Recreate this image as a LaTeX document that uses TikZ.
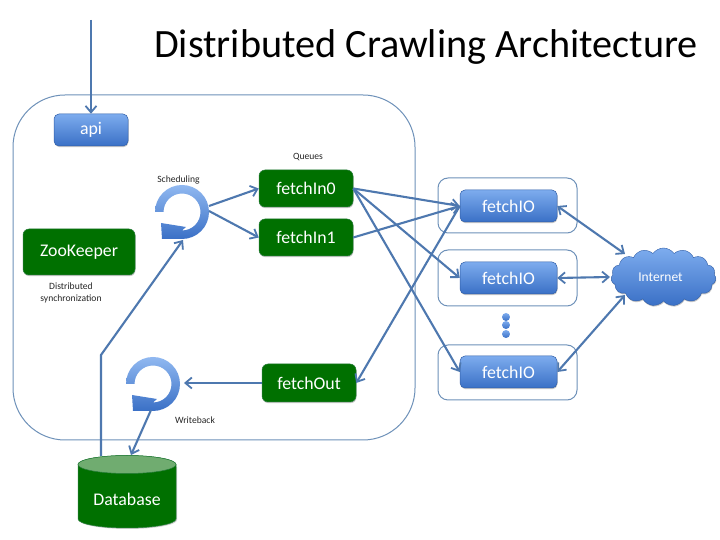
\documentclass[tikz,border=0pt]{standalone}
\usepackage{fontspec}
\setmainfont{Carlito}
\usetikzlibrary{arrows.meta,shapes.geometric,shapes.symbols,shadows,calc}
\definecolor{lnk}{RGB}{78,120,175}
\definecolor{frm}{RGB}{110,145,185}
\definecolor{bluetop}{RGB}{125,172,238}
\definecolor{bluebot}{RGB}{58,112,198}
\definecolor{grn}{RGB}{0,112,0}
\definecolor{grnedge}{RGB}{40,125,60}
\definecolor{grnlid}{RGB}{112,172,112}
\tikzset{
  x=1pt,y=1pt,
  frame/.style={draw=frm,line width=1pt,fill=white,rounded corners=10pt},
  softshadow/.style={drop shadow={shadow xshift=0.5pt,shadow yshift=-1.2pt,opacity=.22,fill=black}},
  bluebox/.style={rectangle,rounded corners=5pt,draw=bluebot!85!black,line width=.5pt,top color=bluetop,bottom color=bluebot,text=white,inner sep=0pt,font=\fontsize{17.8}{20}\selectfont,softshadow},
  greenbox/.style={rectangle,rounded corners=6pt,draw=grnedge,line width=.5pt,fill=grn,text=white,inner sep=0pt,font=\fontsize{17.8}{20}\selectfont,softshadow},
  link/.style={draw=lnk,line width=2.1pt,-{Straight Barb[length=6.5pt,width=11pt,line width=1.8pt]}},
  dlink/.style={draw=lnk,line width=2.1pt,{Straight Barb[length=6.5pt,width=11pt,line width=1.8pt]}-{Straight Barb[length=6.5pt,width=11pt,line width=1.8pt]}},
  caption/.style={font=\fontsize{9.6}{11.5}\selectfont,text=black!85,align=center,inner sep=0pt},
  ringshape/.pic={
    \path[top color=bluetop!85!white,bottom color=bluebot,draw=none]
      (-27,0) arc[start angle=180,end angle=-90,radius=27]
      -- (-20,-27) -- (-21,-11) -- (4,-15) -- (0,-18.5)
      arc[start angle=-90,end angle=180,radius=18.5] -- cycle;
  }
}
\begin{document}
\begin{tikzpicture}
\useasboundingbox (0,0) rectangle (720,540);
\fill[white] (0,0) rectangle (720,540);
% frames
\draw[frame,rounded corners=52pt] (13,100) rectangle (415,445);
\draw[frame] (438,307) rectangle (577,362);
\draw[frame] (438,234) rectangle (577,290);
\draw[frame] (438,140) rectangle (577,195);
% title
\node[anchor=base,inner sep=0pt,font=\fontsize{40.2}{46}\selectfont,text=black] (title) at (426,482) {Distributed Crawling Architecture};
% named points
\coordinate (feed) at (91,520);
\coordinate (schedc) at (182,328);
\coordinate (writec) at (153,156);
\coordinate (schedr0) at (209,334);
\coordinate (schedr1) at (209,329);
\coordinate (schedin) at (183,300);
\coordinate (writein) at (184,157);
\coordinate (writeout) at (151,130);
\coordinate (elbow) at (101,185);
\coordinate (dbup) at (101,84);
\coordinate (dbin) at (131,85);
\coordinate (net0) at (625,286);
\coordinate (net1) at (610,263);
\coordinate (net2) at (625,245);
% nodes
\node[bluebox,minimum width=74pt,minimum height=32pt] (api) at (91,410) {api};
\node[greenbox,minimum width=112pt,minimum height=46pt] (zk) at (79,288) {ZooKeeper};
\node[greenbox,minimum width=94pt,minimum height=37pt] (in0) at (306,351.5) {fetchIn0};
\node[greenbox,minimum width=94pt,minimum height=37pt] (in1) at (306,302.5) {fetchIn1};
\node[greenbox,minimum width=94pt,minimum height=38pt] (out) at (309,157) {fetchOut};
\node[bluebox,minimum width=97pt,minimum height=32pt] (io0) at (508.5,334) {fetchIO};
\node[bluebox,minimum width=97pt,minimum height=32pt] (io1) at (508.5,262) {fetchIO};
\node[bluebox,minimum width=97pt,minimum height=32pt] (io2) at (508.5,168) {fetchIO};
% database cylinder
\fill[black,opacity=.18] (79,73) -- (79,20) arc[x radius=49,y radius=9,start angle=180,end angle=360] -- (177,73) -- cycle;
\path[fill=grn,draw=grnedge,line width=.5pt] (78,75.5) -- (78,21) arc[x radius=49,y radius=9,start angle=180,end angle=360] -- (176,75.5) arc[x radius=49,y radius=9,start angle=0,end angle=180] -- cycle;
\path[fill=grnlid,draw=grnedge,line width=.5pt] (127,75.5) ellipse[x radius=49,y radius=9];
\node[text=white,font=\fontsize{17.8}{20}\selectfont,inner sep=0pt] (db) at (127,41) {Database};
\node[cloud,cloud puffs=15,cloud puff arc=110,aspect=1.9,minimum width=105pt,minimum height=58pt,inner sep=0pt,top color=bluetop,bottom color=bluebot,draw=bluebot!85!black,line width=.4pt,text=white,font=\fontsize{13.5}{15}\selectfont,softshadow] (net) at (663.5,263) {\hspace*{-6pt}Internet};
\foreach \n/\y in {d0/223,d1/215,d2/206}
  \node[circle,minimum size=8pt,inner sep=0pt,top color=bluetop,bottom color=bluebot,draw=none] (\n) at (506,\y) {};
% rings
\path (schedc) pic {ringshape};
\path (writec) pic {ringshape};
% captions
\node[caption] (c1) at (178.5,360) {Scheduling};
\node[caption] (c2) at (308,383) {Queues};
\node[caption,align=center] (c3) at (71,247) {Distributed\\synchronization};
\node[caption] (c4) at (195,120) {Writeback};
% connectors
\draw[link] (feed) -- (api.north);
\draw[link] (schedr0) -- (in0.west);
\draw[link] (schedr1) -- (in1.west);
\draw[link] (in0.east) -- (io0.west);
\draw[link] (in1.east) -- (io0.west);
\draw[link] (in0.east) -- (io1.west);
\draw[link] (in0.east) -- (io2.west);
\draw[link] (io0.west) -- (out.east);
\draw[link] (out.west) -- (writein);
\draw[link] (dbup) -- (elbow) -- (schedin);
\draw[link] (writeout) -- (dbin);
\draw[dlink] (io0.east) -- (net0);
\draw[dlink] (io1.east) -- (net1);
\draw[dlink] (io2.east) -- (net2);
\end{tikzpicture}
\end{document}
